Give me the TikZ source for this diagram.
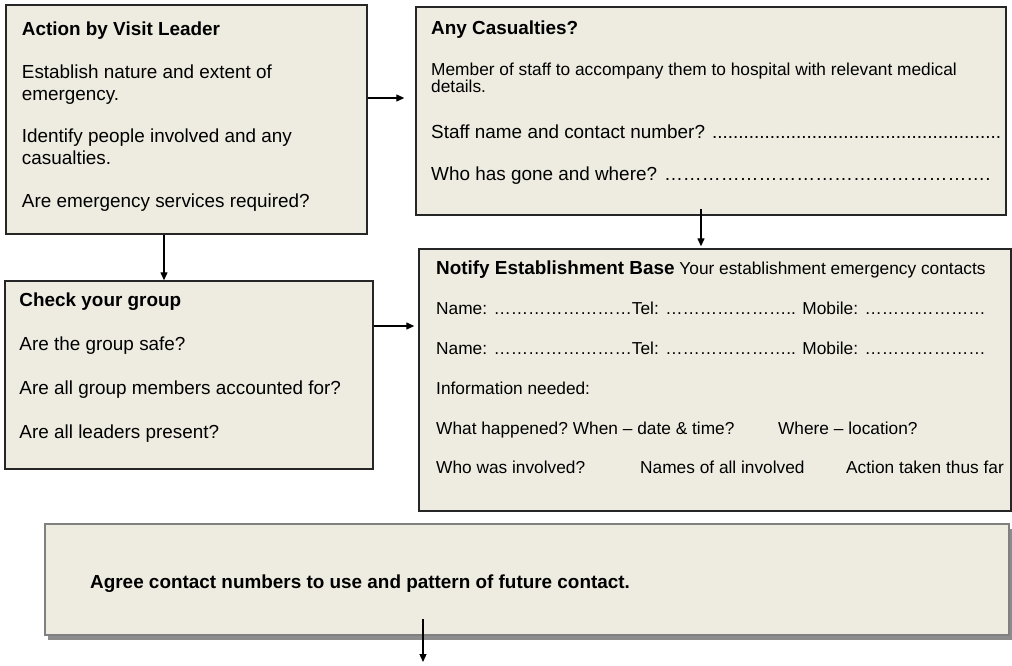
\documentclass[tikz,border=0pt]{standalone}
\usepackage{fontspec}
\setmainfont{Liberation Sans}
\usetikzlibrary{arrows.meta,shadows}
\definecolor{boxfill}{RGB}{238,236,225}
\newcommand{\dotrun}[1]{\foreach \k in {1,...,#1}{…}}

\begin{document}
\begin{tikzpicture}[x=1pt,y=-1pt,>={Triangle[length=8pt,width=7pt]},
    panel/.style={draw=black!85,fill=boxfill,line width=1.4pt,inner sep=0pt},
    bodytext/.style={anchor=north west,align=left,inner sep=0pt,font=\fontsize{18.9}{22}\selectfont},
    smalltext/.style={anchor=north west,align=left,inner sep=0pt,font=\fontsize{17.3}{17}\selectfont},
    notetext/.style={anchor=north west,align=left,inner sep=0pt,font=\fontsize{17.3}{39.8}\selectfont},
    flow/.style={->,line width=1.3pt}]

    \useasboundingbox (0,0) rectangle (1012,666);

    % boxes
    \node[panel,minimum width=361pt,minimum height=229pt] (visit) at (186.5,119.5) {};
    \node[panel,minimum width=590pt,minimum height=208pt] (casualty) at (711,111) {};
    \node[panel,minimum width=368pt,minimum height=188pt] (group) at (189,375) {};
    \node[panel,minimum width=592pt,minimum height=262pt] (notify) at (715,380) {};
    \node[panel,draw=gray,line width=1.6pt,drop shadow={shadow xshift=3pt,shadow yshift=-5pt,fill=gray!90,opacity=1},
          minimum width=964pt,minimum height=111pt] (agree) at (527,579.5) {};

    % texts
    \node[bodytext] (visit text) at (21.7,21.9) {\textbf{Action by Visit Leader}\\[20.5pt]
        Establish nature and extent of\\emergency.\\[20.5pt]
        Identify people involved and any\\casualties.\\[20.5pt]
        Are emergency services required?};

    \node[bodytext,anchor=base west] (casualty head) at (431,34.5) {\textbf{Any Casualties?}};
    \node[smalltext] (casualty note) at (431,62.9) {Member of staff to accompany them to hospital with relevant medical\\details.};
    \node[bodytext] (casualty ask) at (431,124.5) {Staff name and contact number? .......................................................\\[19.7pt]
        Who has gone and where? \dotrun{17}.};

    \node[bodytext] (group text) at (19.3,292.2) {\textbf{Check your group}\\[22pt]
        Are the group safe?\\[22pt]
        Are all group members accounted for?\\[22pt]
        Are all leaders present?};

    \node[notetext] (notify text) at (436,261) {{\fontsize{18.9}{22}\selectfont\bfseries Notify Establishment Base} Your establishment emergency contacts\\
        Name: \dotrun{8}Tel: \dotrun{7}.. Mobile: \dotrun{7}\\
        Name: \dotrun{8}Tel: \dotrun{7}.. Mobile: \dotrun{7}\\
        Information needed:\\
        \makebox[136.7pt][l]{What happened?}\makebox[205.3pt][l]{When – date \& time?}Where – location?\\
        \makebox[204pt][l]{Who was involved?}\makebox[206pt][l]{Names of all involved}Action taken thus far};

    \node[bodytext,anchor=base west] (agree text) at (90,588) {\textbf{Agree contact numbers to use and pattern of future contact.}};

    % connectors
    \coordinate (onward) at (423,662);

    \draw[flow,shorten >=11pt] (visit.east |- 0,98) -- (casualty.west |- 0,98);
    \draw[flow] (visit.south -| 164,0) -- (group.north -| 164,0);
    \draw[flow,shorten <=-7pt,shorten >=2pt] (casualty.south -| 701,0) -- (notify.north -| 701,0);
    \draw[flow,shorten >=4pt] (group.east |- 0,326) -- (notify.west |- 0,326);
    \draw[flow] ([yshift=17pt]agree.south -| onward) -- (onward);
\end{tikzpicture}
\end{document}
